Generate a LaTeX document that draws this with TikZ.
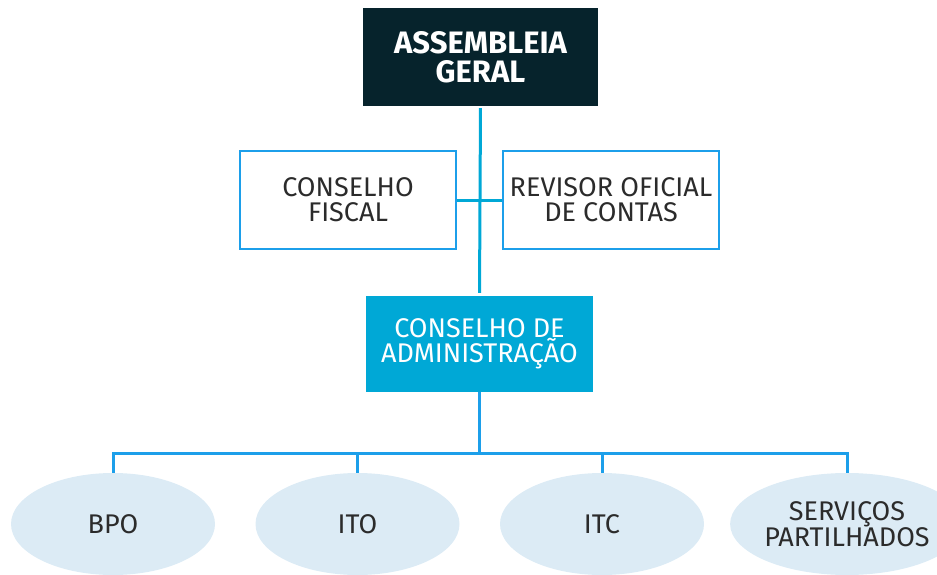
\documentclass[tikz,border=0pt]{standalone}
\usepackage{fontspec}
\setmainfont{Fira Sans}
\usepackage{xcolor}
\usetikzlibrary{shapes.geometric}

\definecolor{nightblue}{HTML}{06232C}
\definecolor{seacyan}{HTML}{00A8D6}
\definecolor{frameblue}{HTML}{1C9FEA}
\definecolor{unitfill}{HTML}{DCEBF5}
\definecolor{inkgray}{HTML}{2B2B2B}

\begin{document}
\begin{tikzpicture}[
    x=1pt, y=-1pt,                       % pixel-like units, y down
    every node/.style={
        align=center,
        inner sep=0pt,
        font=\fontsize{27}{25}\selectfont
    },
    assembly/.style={fill=nightblue, text=white,
        font=\bfseries\fontsize{31}{29}\selectfont,
        minimum width=235pt, minimum height=98pt},
    board/.style={fill=seacyan, text=white,
        minimum width=227pt, minimum height=96pt},
    overseer/.style={draw=frameblue, line width=2.5pt, text=inkgray,
        minimum width=216pt, minimum height=98pt},
    unit/.style={ellipse, fill=unitfill, text=inkgray,
        minimum width=204pt, minimum height=102pt},
    mainline/.style={draw=seacyan, line width=3pt},
    busline/.style={draw=frameblue, line width=3pt}
]

\useasboundingbox (0,0) rectangle (937,575);

% governing bodies
\node[assembly] (ag) at (480.5,57) {ASSEMBLEIA\\GERAL};
\node[overseer] (cf) at (348,200) {CONSELHO\\FISCAL};
\node[overseer] (roc) at (611,200) {REVISOR OFICIAL\\DE CONTAS};
\node[board] (ca) at (479.5,344) {CONSELHO DE\\ADMINISTRAÇÃO};

% business units
\node[unit] (bpo) at (113,524) {BPO};
\node[unit] (ito) at (357.5,524) {ITO};
\node[unit] (itc) at (602,524) {ITC};
\node[unit] (sp) at (847,524) {SERVIÇOS\\PARTILHADOS};

% connectors
\draw[mainline, shorten <=2pt, shorten >=3pt] (ag.south) -- (ca.north);
\draw[mainline] (cf.east) -- (roc.west);
\coordinate (bus) at (ca.south |- 0,453);
\draw[busline] (ca.south) -- (bus);
\draw[busline] (bpo.north) |- (bus) -| (sp.north);
\draw[busline] (ito.north) -- (ito.north |- bus);
\draw[busline] (itc.north) -- (itc.north |- bus);

\end{tikzpicture}
\end{document}
